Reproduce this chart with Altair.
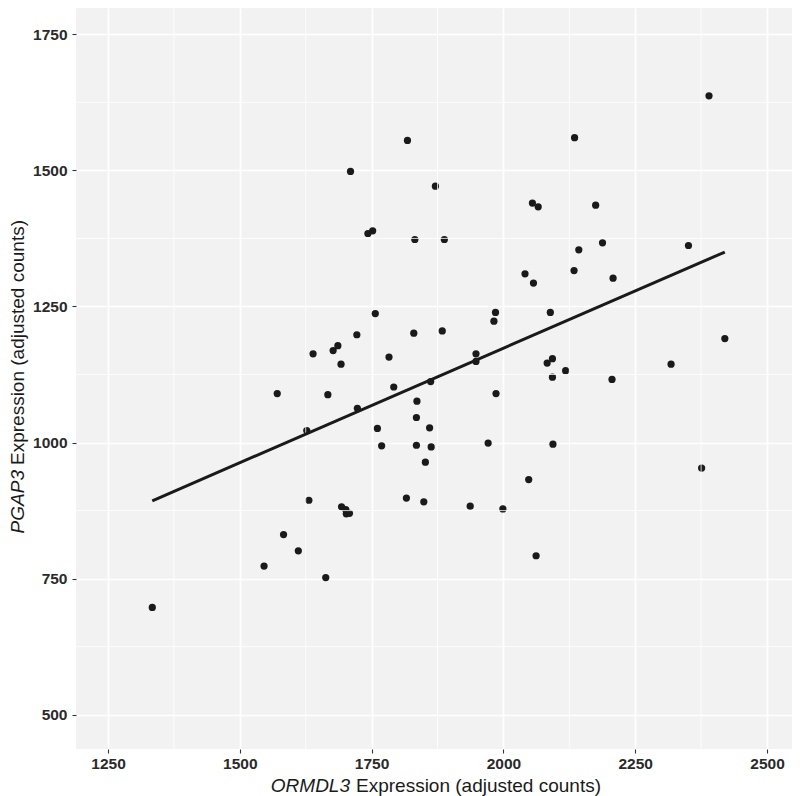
import altair as alt
import pandas as pd

# ORMDL3 (x) vs PGAP3 (y) expression, adjusted counts
ormdl3 = [1818, 1710, 1871, 1743, 1752, 1832, 1757, 1722, 1830, 1884,
          1639, 1677, 1686, 1692, 1783, 1571, 1667, 1792, 1723, 1862,
          1948, 1948, 1627, 1761, 1836, 1835, 1860, 1769, 1835, 1863,
          1852, 1631, 1816, 1849, 1693, 1701, 1702, 1708, 1583, 1611,
          1546, 1663, 1334, 2390, 2135, 2055, 2066, 2175, 1888, 2143,
          2188, 2351, 2041, 2057, 2134, 2208, 1985, 1982, 2089, 2420,
          2083, 2093, 2093, 2118, 2206, 2318, 1986, 1971, 2094, 2376,
          2048, 1937, 1999, 2062]
pgap3 = [1555, 1498, 1471, 1384, 1389, 1373, 1237, 1198, 1201, 1205,
         1163, 1169, 1178, 1144, 1157, 1090, 1088, 1102, 1063, 1112,
         1163, 1149, 1022, 1026, 1076, 1046, 1027, 994, 995, 992,
         964, 894, 898, 891, 882, 877, 869, 870, 831, 801,
         773, 752, 697, 1637, 1560, 1440, 1433, 1436, 1373, 1354,
         1367, 1362, 1310, 1293, 1316, 1302, 1239, 1223, 1239, 1191,
         1146, 1154, 1120, 1132, 1116, 1144, 1090, 999, 997, 953,
         932, 883, 878, 792]

# fitted regression line end points
fit_x = [1334, 2420]
fit_y = [893, 1350]

x_major = [1250, 1500, 1750, 2000, 2250, 2500]
y_major = [500, 750, 1000, 1250, 1500, 1750]
x_minor = [1375, 1625, 1875, 2125, 2375]
y_minor = [625, 875, 1125, 1375, 1625]

x_title_italic = ["ORMDL3"]
x_title_rest = ["Expression (adjusted counts)"]
y_title_italic = ["PGAP3"]
y_title_rest = ["Expression (adjusted counts)"]

FONT = "Liberation Sans"
INK = "#1a1a1a"

xs = alt.Scale(domain=[1189.3, 2547.4], nice=False, zero=False)
ys = alt.Scale(domain=[437.0, 1798.3], nice=False, zero=False)

common = dict(title=None, grid=True, gridColor="white", gridWidth=1.6,
              gridOpacity=1, domain=False, tickColor="#333333", tickSize=4,
              tickWidth=1.1, labelFont=FONT, labelFontWeight="bold",
              labelFontSize=15.5, labelColor="#2a2a2a", format="d")
x_axis = alt.Axis(values=x_major, labelPadding=3, **common)
y_axis = alt.Axis(values=y_major, labelPadding=5, **common)

pts_df = pd.DataFrame({"x": ormdl3, "y": pgap3})
fit_df = pd.DataFrame({"x": fit_x, "y": fit_y})

minor_x = alt.Chart(pd.DataFrame({"x": x_minor})).mark_rule(
    color="white", strokeWidth=0.8).encode(x=alt.X("x:Q", scale=xs, axis=x_axis))
minor_y = alt.Chart(pd.DataFrame({"y": y_minor})).mark_rule(
    color="white", strokeWidth=0.8).encode(y=alt.Y("y:Q", scale=ys, axis=y_axis))

points = alt.Chart(pts_df).mark_circle(size=52, color=INK, opacity=1).encode(
    x=alt.X("x:Q", scale=xs, axis=x_axis),
    y=alt.Y("y:Q", scale=ys, axis=y_axis),
)

line = alt.Chart(fit_df).mark_line(color=INK, strokeWidth=3).encode(
    x=alt.X("x:Q", scale=xs, axis=x_axis),
    y=alt.Y("y:Q", scale=ys, axis=y_axis),
)

def label(texts, italic, align, x, y, angle=0):
    return alt.Chart(pd.DataFrame({"t": texts})).mark_text(
        font=FONT, fontSize=19, fontStyle="italic" if italic else "normal",
        color=INK, align=align, baseline="alphabetic", angle=angle,
    ).encode(text="t:N", x=alt.value(x), y=alt.value(y))

xt1 = label(x_title_italic, True, "right", 274, 784)
xt2 = label(x_title_rest, False, "left", 280, 784)
yt1 = label(y_title_italic, True, "right", -52, 462, angle=270)
yt2 = label(y_title_rest, False, "left", -52, 457, angle=270)

chart = alt.layer(points, minor_x, minor_y, line, xt1, xt2, yt1, yt2).properties(
    width=716, height=741,
    padding={"left": 68, "top": 0, "right": 0, "bottom": 47},
    autosize=alt.AutoSizeParams(type="none"),
    background="white",
).configure_view(fill="#F2F2F2", stroke=None)

chart.save("out.html", embed_options={"renderer": "svg", "actions": False})
